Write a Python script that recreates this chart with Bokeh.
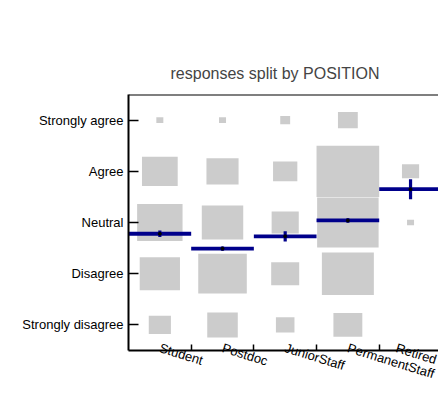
from bokeh.plotting import figure
from bokeh.models import Range1d, FixedTicker, Span, ColumnDataSource
from bokeh.embed import file_html
from bokeh.resources import INLINE
import math

positions = ["Student", "Postdoc", "JuniorStaff", "PermanentStaff", "Retired"]
levels = ["Strongly disagree", "Disagree", "Neutral", "Agree", "Strongly agree"]

# counts per response level (Strongly disagree .. Strongly agree) for each position
student = [10, 33, 42, 26, 1]
postdoc = [19, 48, 35, 21, 1]
junior = [7, 16, 15, 12, 2]
permanent = [17, 55, 77, 80, 8]
retired = [0, 0, 1, 6, 0]

# mean response (1..5) and its standard error per position
means = [2.78, 2.49, 2.73, 3.04, 3.65]
errors = [0.065, 0.04, 0.10, 0.045, 0.195]

all_counts = [student, postdoc, junior, permanent, retired]
max_count = max(max(c) for c in all_counts)

xs, ys, sizes = [], [], []
for i, counts in enumerate(all_counts):
    for j, c in enumerate(counts):
        if c > 0:
            xs.append(i + 1)
            ys.append(j + 1)
            sizes.append(math.sqrt(c / max_count))
boxes = ColumnDataSource(dict(x=xs, y=ys, s=sizes))

px = list(range(1, len(positions) + 1))
stats = ColumnDataSource(dict(
    x=px,
    x0=[v - 0.5 for v in px],
    x1=[v + 0.5 for v in px],
    m=means,
    lo=[m - e for m, e in zip(means, errors)],
    hi=[m + e for m, e in zip(means, errors)],
))

p = figure(width=438, height=393, output_backend="svg", toolbar_location=None,
           x_range=Range1d(0.5, 5.446), y_range=Range1d(0.5, 5.5),
           min_border_left=128, min_border_right=0, min_border_top=94,
           min_border_bottom=43)
p.title.text = "responses split by POSITION"
p.title.text_font = "Liberation Sans"
p.title.text_font_size = "16px"
p.title.text_font_style = "normal"
p.title.align = "left"
p.title.offset = 42
p.title.standoff = 25
p.outline_line_color = None
p.xgrid.visible = False
p.ygrid.visible = False
p.background_fill_color = "white"
p.border_fill_color = "white"

p.rect(x="x", y="y", width="s", height="s", source=boxes,
       fill_color="#cccccc", line_color=None)
p.segment(x0="x0", x1="x1", y0="m", y1="m", source=stats,
          line_color="#00008b", line_width=3.8)
p.segment(x0="x", x1="x", y0="lo", y1="hi", source=stats,
          line_color="#00008b", line_width=3.2)
p.scatter(x="x", y="m", source=stats, size=3, color="black")

p.add_layout(Span(location=5.5, dimension="width", line_color="black", line_width=2))

xa = p.xaxis[0]
xa.ticker = FixedTicker(ticks=px, minor_ticks=[1.5, 2.5, 3.5, 4.5])
xa.major_label_overrides = {i + 1: n for i, n in enumerate(positions)}
xa.major_tick_in = 0
xa.major_tick_out = 0
xa.minor_tick_in = 6
xa.minor_tick_out = 0
xa.minor_tick_line_width = 1.5
xa.minor_tick_line_color = "black"
xa.axis_line_width = 2
xa.axis_line_color = "black"
xa.major_label_orientation = -0.3
xa.major_label_standoff = -3
xa.major_label_text_font = "Liberation Sans"
xa.major_label_text_font_size = "13px"
xa.major_label_text_color = "black"

ya = p.yaxis[0]
ya.ticker = FixedTicker(ticks=[1, 2, 3, 4, 5], minor_ticks=[])
ya.major_label_overrides = {i + 1: n for i, n in enumerate(levels)}
ya.major_tick_in = 10
ya.major_tick_out = 0
ya.major_tick_line_width = 1.5
ya.major_tick_line_color = "black"
ya.minor_tick_line_color = None
ya.axis_line_width = 2
ya.axis_line_color = "black"
ya.major_label_standoff = 5
ya.major_label_text_font = "Liberation Sans"
ya.major_label_text_font_size = "13px"
ya.major_label_text_color = "black"

open("out.html", "w").write(file_html(p, INLINE))
